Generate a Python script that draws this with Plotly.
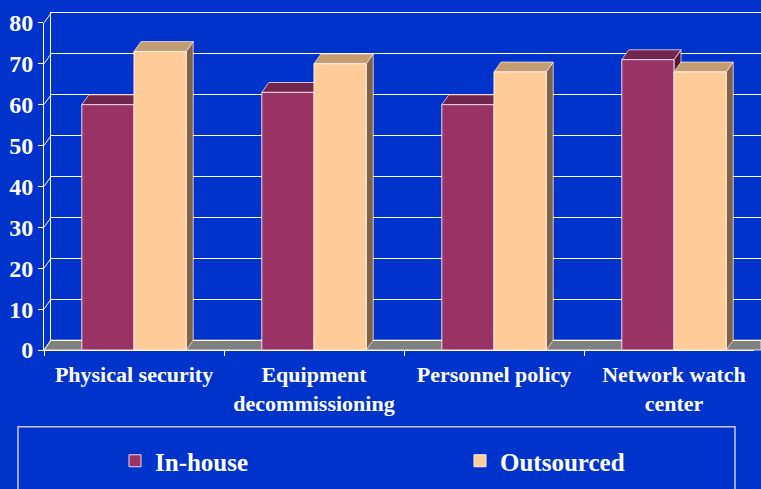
import plotly.graph_objects as go

# ---- data -------------------------------------------------------------
categories = ["Physical security", "Equipment<br>decommissioning",
              "Personnel policy", "Network watch<br>center"]
in_house = [60, 63, 60, 71]
outsourced = [73, 70, 68, 68]
y_ticks = [0, 10, 20, 30, 40, 50, 60, 70, 80]

# ---- geometry / style -------------------------------------------------
W, H = 761, 489
M_L, M_R, M_T, M_B = 44, 0, 8, 139
DEPTH_X, DEPTH_Y = 7, 10          # pixel offset of the back wall
CAT_PX = 180                      # pixel width of one category slot
BARGAP = 0.42
Y_MAX = 80

BG = "#0033CC"
FONT = "Liberation Serif, Times New Roman, serif"
C_IN = dict(front="#993366", top="#73264D", side="#4F1A36")
C_OUT = dict(front="#FFCC99", top="#C49C72", side="#7F6347")

PW = W - M_L - M_R
PH = H - M_T - M_B
FRONT_W = PW - DEPTH_X
FRONT_H = PH - DEPTH_Y
x_end = -0.5 + FRONT_W / CAT_PX
dx = DEPTH_X * (x_end + 0.5) / FRONT_W      # depth in category units
dy = DEPTH_Y * Y_MAX / FRONT_H              # depth in value units
bar_w = (1 - BARGAP) / 2
fx, fy = DEPTH_X / PW, DEPTH_Y / PH         # depth in paper units


def top_faces(values, left):
    xs, ys = [], []
    for i, v in enumerate(values):
        xl = i - bar_w if left else i
        xr = xl + bar_w
        xs += [xl, xr, xr + dx, xl + dx, xl, None]
        ys += [v, v, v + dy, v + dy, v, None]
    return xs, ys


def side_faces(values, left):
    xs, ys = [], []
    for i, v in enumerate(values):
        xr = i if left else i + bar_w
        xs += [xr, xr + dx, xr + dx, xr, xr, None]
        ys += [0, dy, v + dy, v, 0, None]
    return xs, ys


fig = go.Figure()

# back wall subplot (grid only)
fig.add_trace(go.Scatter(x=[], y=[], xaxis="x", yaxis="y", mode="lines",
                         showlegend=False, hoverinfo="skip"))

# top and side faces (drawn beneath the front faces)
edge = dict(color="rgba(255,235,240,0.75)", width=1)
for values, left, col in [(in_house, True, C_IN), (outsourced, False, C_OUT)]:
    sx, sy = side_faces(values, left)
    fig.add_trace(go.Scatter(x=sx, y=sy, xaxis="x2", yaxis="y2", mode="lines",
                             fill="toself", fillcolor=col["side"], line=edge,
                             showlegend=False, hoverinfo="skip"))
    tx, ty = top_faces(values, left)
    fig.add_trace(go.Scatter(x=tx, y=ty, xaxis="x2", yaxis="y2", mode="lines",
                             fill="toself", fillcolor=col["top"], line=edge,
                             showlegend=False, hoverinfo="skip"))

# front faces
fig.add_trace(go.Bar(name="In-house", x=categories, y=in_house,
                     xaxis="x3", yaxis="y2",
                     marker=dict(color=C_IN["front"],
                                 line=dict(color="#F2D9E3", width=1))))
fig.add_trace(go.Bar(name="Outsourced", x=categories, y=outsourced,
                     xaxis="x3", yaxis="y2",
                     marker=dict(color=C_OUT["front"],
                                 line=dict(color="#FFF2E6", width=1))))

# floor, side-wall grid connectors and legend frame
shapes = [dict(type="path", xref="paper", yref="paper", layer="below",
               path=f"M 0 0 L 1 0 L 1 {fy} L {fx} {fy} Z",
               fillcolor="#808080", line=dict(color="#E0E0F0", width=1))]
for t in y_ticks:
    yf = t / Y_MAX * FRONT_H / PH
    shapes.append(dict(type="line", xref="paper", yref="paper", layer="below",
                       x0=0, y0=yf, x1=fx, y1=yf + fy,
                       line=dict(color="white", width=1)))
shapes.append(dict(type="rect", xref="paper", yref="paper", layer="below",
                   x0=(18 - M_L) / PW, x1=(735 - M_L) / PW,
                   y0=1 - (428 - M_T) / PH,
                   y1=1 - (495 - M_T) / PH,
                   line=dict(color="#C8CCF4", width=1.5)))

fig.update_layout(
    width=W, height=H,
    margin=dict(l=M_L, r=M_R, t=M_T, b=M_B),
    paper_bgcolor=BG, plot_bgcolor="rgba(0,0,0,0)",
    font=dict(family=FONT, color="white"),
    barmode="group", bargap=BARGAP, bargroupgap=0,
    shapes=shapes,
    # back wall
    xaxis=dict(domain=[fx, 1], anchor="y", type="linear",
               range=[-0.5, x_end], showgrid=False, zeroline=False,
               showticklabels=False, ticks="", showline=True, mirror=True,
               linecolor="white", linewidth=1),
    yaxis=dict(domain=[fy, 1], anchor="x", range=[0, Y_MAX], dtick=10,
               showgrid=True, gridcolor="white", gridwidth=1, zeroline=False,
               showticklabels=False, ticks="", showline=True,
               linecolor="white", linewidth=1),
    # front plane (faces)
    xaxis2=dict(domain=[0, FRONT_W / PW], anchor="y2", type="linear",
                range=[-0.5, x_end], visible=False),
    yaxis2=dict(domain=[0, FRONT_H / PH], anchor="x2", range=[0, Y_MAX],
                tickvals=y_ticks, showgrid=False, zeroline=False,
                showline=True, linecolor="white", linewidth=1,
                ticks="outside", ticklen=5, tickcolor="white",
                tickfont=dict(family=FONT, size=24, color="white",
                              weight="bold")),
    # front plane (bars + category labels)
    xaxis3=dict(overlaying="x2", anchor="y2", type="category",
                range=[-0.5, x_end], tickson="boundaries",
                showgrid=False, showline=True, linecolor="white",
                linewidth=1, ticks="outside", ticklen=5, tickcolor="white",
                ticklabelstandoff=5,
                tickfont=dict(family=FONT, size=22, color="white",
                              weight="bold")),
    legend=dict(orientation="h", xref="container", yref="container",
                x=115 / W, y=(H - 461) / H, xanchor="left", yanchor="middle",
                entrywidth=300, entrywidthmode="pixels",
                bgcolor="rgba(0,0,0,0)",
                font=dict(family=FONT, size=25, color="white",
                          weight="bold")),
    showlegend=True,
)

fig.write_html("out.html")
